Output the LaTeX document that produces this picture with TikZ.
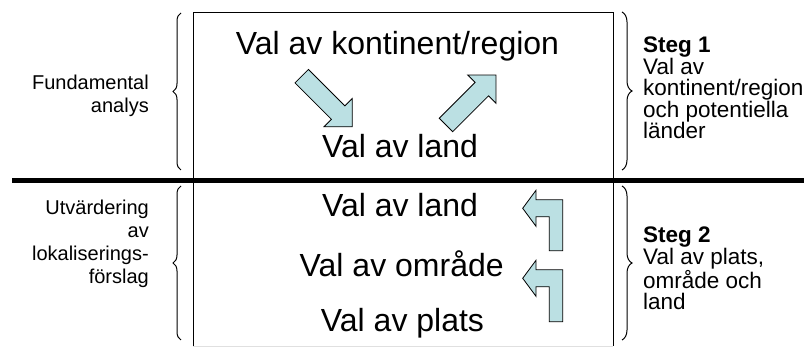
\documentclass[tikz,border=0pt]{standalone}
\usepackage{fontspec}
\setmainfont{Liberation Sans}
\usetikzlibrary{decorations.pathreplacing}
\definecolor{arrowfill}{RGB}{187,224,227}
\tikzset{
  frameline/.style={line width=0.9pt, draw=black},
  bigtext/.style={inner sep=0pt, anchor=base, font=\fontsize{32}{36}\selectfont},
  lefttext/.style={inner sep=0pt, anchor=north east, align=right, font=\fontsize{20}{23}\selectfont},
  righttext/.style={inner sep=0pt, anchor=north west, align=left, font=\fontsize{22.5}{21.5}\selectfont},
  bracestyle/.style={line width=1pt, decorate, decoration={brace, amplitude=#1}},
  bracestyle/.default=8pt,
  blockarrow/.style={fill=arrowfill, draw=black, line width=0.8pt, line join=miter},
}
\begin{document}
\begin{tikzpicture}[x=1pt, y=1pt]
\useasboundingbox (0,0) rectangle (804,347);

% top box
\draw[frameline] (193,169) rectangle (613,335);
% bottom box
\draw[frameline] (193,166) -- (193,0.5);
\draw[frameline] (613,166) -- (613,0.5);
\draw[line width=0.6pt, black!12] (193,0.6) -- (613,0.6);
% thick separator
\draw[line width=5pt] (12,166) -- (804,166);

% braces
\draw[bracestyle=8pt] (181,177) -- (181,334);
\draw[bracestyle=8pt] (181,7) -- (181,161);
\draw[bracestyle=10pt] (622,335) -- (622,177);
\draw[bracestyle=10pt] (622,161) -- (622,7);

% center texts
\node[bigtext] (kont) at (397.5,292) {Val av kontinent/region};
\node[bigtext] (land1) at (400,189) {Val av land};
\node[bigtext] (land2) at (400,130.3) {Val av land};
\node[bigtext] (omr) at (401.7,70.3) {Val av område};
\node[bigtext] (plats) at (402.5,15) {Val av plats};

% diagonal block arrows
\draw[blockarrow, shift={(301.7,270.8)}, rotate=-45]
  (0,-9.5) -- (51.5,-9.5) -- (51.5,-20) -- (71.5,0) -- (51.5,20) -- (51.5,9.5) -- (0,9.5) -- cycle;
\draw[blockarrow, shift={(446,222)}, rotate=45]
  (0,-9.5) -- (50.7,-9.5) -- (50.7,-20) -- (70.7,0) -- (50.7,20) -- (50.7,9.5) -- (0,9.5) -- cycle;

% bent arrows
\draw[blockarrow, shift={(522.7,138.7)}]
  (0,0) -- (13.3,18) -- (13.3,8.5) -- (40,8.5) -- (40,-42.4) -- (26.6,-42.4)
  -- (26.6,-8.5) -- (13.3,-8.5) -- (13.3,-18) -- cycle;
\draw[blockarrow, shift={(522.7,68.7)}]
  (0,0) -- (13.3,18) -- (13.3,8.5) -- (40,8.5) -- (40,-43.4) -- (26.6,-43.4)
  -- (26.6,-8.5) -- (13.3,-8.5) -- (13.3,-18) -- cycle;

% left texts
\node[lefttext] (fund) at (149,272.4) {Fundamental\\analys};
\node[lefttext] (utv) at (149,147.4) {Utvärdering\\av\\lokaliserings-\\förslag};

% right texts
\node[righttext] (steg1) at (643,310) {\textbf{Steg 1}\\Val av\\kontinent/region\\och potentiella\\länder};
\node[righttext] (steg2) at (643,120) {\textbf{Steg 2}\\Val av plats,\\område och\\land};
\end{tikzpicture}
\end{document}
